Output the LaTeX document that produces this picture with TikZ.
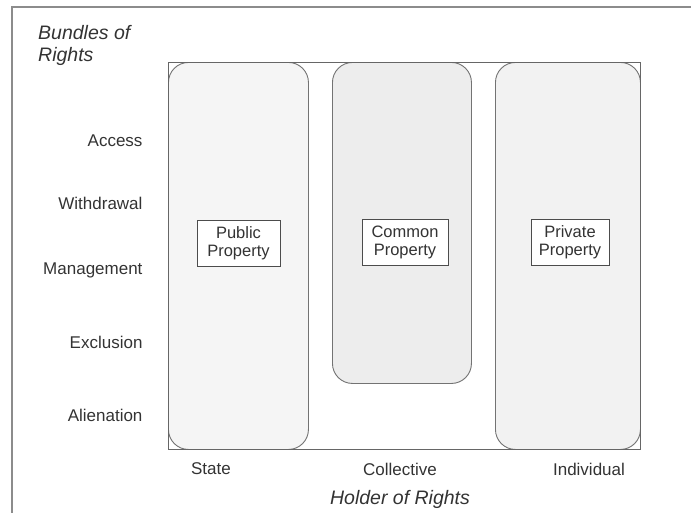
\documentclass[tikz,border=0pt]{standalone}
\usepackage{fontspec}
\setmainfont{Liberation Sans}
\begin{document}
\begin{tikzpicture}[x=1pt, y=-1pt,
            bundle/.style={draw=black!55, line width=0.9pt, rounded corners=20pt, anchor=north west, inner sep=0pt},
            lbl/.style={draw=black!70, line width=0.8pt, fill=white, align=center, minimum height=46pt, inner sep=1pt, font=\fontsize{16.5}{18}\selectfont, text=black!80},
            row/.style={anchor=east, font=\fontsize{17}{19}\selectfont, text=black!80},
            col/.style={font=\fontsize{17}{19}\selectfont, text=black!80},
            ttl/.style={font=\fontsize{19.5}{22}\selectfont\itshape, text=black!80}]
            \useasboundingbox (0,0) rectangle (691,512);
            \clip (0,0) rectangle (691,512);

            \draw[black!45, line width=1.3pt] (12,540) -- (12,7) -- (720,7);

            \node[bundle, fill=black!4, minimum width=140pt, minimum height=387pt] (pub) at (168,62) {};
            \node[bundle, fill=black!7, minimum width=139pt, minimum height=321pt] (com) at (332,62) {};
            \node[bundle, fill=black!5, minimum width=145pt, minimum height=387pt] (pri) at (495,62) {};

            \draw[black!60, line width=0.9pt] (168,62) rectangle (640,449);

            \node[lbl, minimum width=83pt] (publab) at (238.5,243) {Public\\Property};
            \node[lbl, minimum width=86pt] (comlab) at (405,242) {Common\\Property};
            \node[lbl, minimum width=78pt] (prilab) at (570,242) {Private\\Property};

            \node[ttl, anchor=north west, align=left, inner sep=0pt] (bun) at (38,25) {Bundles of\\Rights};

            \node[row] (acc) at (146,141) {Access};
            \node[row] (wit) at (146,203) {Withdrawal};
            \node[row] (man) at (146,270) {Management};
            \node[row] (exc) at (146,342) {Exclusion};
            \node[row] (ali) at (146,415) {Alienation};

            \node[col] (sta) at (211,469) {State};
            \node[col] (col) at (400,469) {Collective};
            \node[col] (ind) at (589,469) {Individual};

            \node[ttl] (hol) at (400,499) {Holder of Rights};
        \end{tikzpicture}
\end{document}
